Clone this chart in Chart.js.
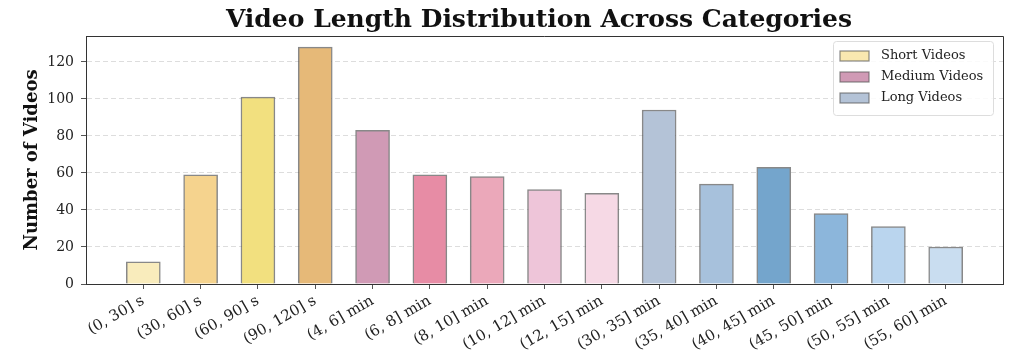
<!DOCTYPE html>
<html>
<head>
<meta charset="utf-8">
<script src="https://cdn.jsdelivr.net/npm/chart.js@4/dist/chart.umd.min.js"></script>
<style>
html,body{margin:0;padding:0;background:#fff;}
#wrap{width:1024px;height:364px;}
</style>
</head>
<body>
<div id="wrap"><canvas id="c" width="1024" height="364"></canvas></div>
<script>
const categories = ["(0, 30] s","(30, 60] s","(60, 90] s","(90, 120] s","(4, 6] min","(6, 8] min","(8, 10] min","(10, 12] min","(12, 15] min","(30, 35] min","(35, 40] min","(40, 45] min","(45, 50] min","(50, 55] min","(55, 60] min"];
const counts = [12, 59, 101, 128, 83, 59, 58, 51, 49, 94, 54, 63, 38, 31, 20];
const barColors = ["#F9ECBC","#F5D38E","#F2E07F","#E6B978","#D09AB5","#E78CA5","#EBA8BA","#EEC5D9","#F6D9E5","#B4C3D7","#A7C1DC","#74A5CC","#8CB6DB","#BAD5EE","#C9DDF0"];
const legendLabels = ["Short Videos","Medium Videos","Long Videos"];
const legendColors = ["#F9E8B0","#D09AB5","#B4C3D7"];
const yTicks = [0, 20, 40, 60, 80, 100, 120];
const chartTitle = 'Video Length Distribution Across Categories';

const SERIF = "'DejaVu Serif', 'Liberation Serif', serif";

const framePlugin = {
  id: 'frame',
  afterDraw(chart) {
    const {ctx, chartArea: a} = chart;
    ctx.save();
    // title
    ctx.fillStyle = '#111';
    ctx.font = "bold 25px " + SERIF;
    ctx.textAlign = 'center';
    ctx.textBaseline = 'alphabetic';
    ctx.fillText(chartTitle, 539, 27);
    // frame top/right
    ctx.strokeStyle = '#333';
    ctx.lineWidth = 1;
    ctx.beginPath();
    ctx.moveTo(a.left, a.top + 0.5);
    ctx.lineTo(a.right + 0.5, a.top + 0.5);
    ctx.lineTo(a.right + 0.5, a.bottom);
    ctx.stroke();
    // legend
    const w = 160, h = 74;
    const x = a.right - 10 - w, y = a.top + 5;
    ctx.fillStyle = 'rgba(255,255,255,0.85)';
    ctx.strokeStyle = '#dddddd';
    ctx.beginPath();
    if (ctx.roundRect) ctx.roundRect(x + 0.5, y + 0.5, w, h, 3); else ctx.rect(x + 0.5, y + 0.5, w, h);
    ctx.fill();
    ctx.stroke();
    ctx.font = "13px " + SERIF;
    ctx.textBaseline = 'middle';
    ctx.textAlign = 'left';
    for (let i = 0; i < legendLabels.length; i++) {
      const ry = y + 15 + i * 21;
      ctx.fillStyle = legendColors[i];
      ctx.fillRect(x + 7, ry - 5, 29, 10);
      ctx.strokeStyle = 'rgba(90,90,90,0.7)';
      ctx.lineWidth = 1.2;
      ctx.strokeRect(x + 7, ry - 5, 29, 10);
      ctx.fillStyle = '#222';
      ctx.fillText(legendLabels[i], x + 48, ry);
    }
    ctx.restore();
  }
};

new Chart(document.getElementById('c'), {
  type: 'bar',
  data: {
    datasets: [{
      data: counts.map((v, i) => ({x: i, y: v})),
      backgroundColor: barColors,
      borderColor: 'rgba(85,85,85,0.7)',
      borderWidth: 1.5,
      barThickness: 34
    }]
  },
  options: {
    responsive: false,
    animation: false,
    layout: {padding: {left: 0, right: 21, top: 36, bottom: 0}},
    plugins: {
      legend: {display: false},
      tooltip: {enabled: false},
      title: {display: false}
    },
    scales: {
      x: {
        type: 'linear',
        min: -1,
        max: 15,
        offset: false,
        afterBuildTicks(scale) { scale.ticks = categories.map((c, i) => ({value: i})); },
        afterFit(scale) { scale.height = 80; },
        ticks: {
          autoSkip: false,
          maxRotation: 30,
          minRotation: 30,
          padding: 3,
          color: '#222',
          font: {family: SERIF, size: 15},
          callback: (v) => categories[v] !== undefined ? categories[v] : ''
        },
        grid: {drawOnChartArea: false, offset: false, tickLength: 5, tickColor: '#555', color: '#555'},
        border: {color: '#333', width: 1}
      },
      y: {
        min: 0,
        max: 134,
        afterBuildTicks(scale) { scale.ticks = yTicks.map(v => ({value: v})); },
        afterFit(scale) { scale.width = 86; },
        ticks: {
          padding: 7,
          color: '#222',
          font: {family: SERIF, size: 14}
        },
        grid: {color: '#dddddd', tickColor: '#555', tickLength: 5, lineWidth: 1},
        border: {color: '#333', width: 1, dash: [5, 3]},
        title: {
          display: true,
          text: 'Number of Videos',
          color: '#111',
          font: {family: SERIF, size: 18, weight: 'bold'},
          padding: {top: 22, bottom: 0}
        }
      }
    }
  },
  plugins: [framePlugin]
});
</script>
</body>
</html>
